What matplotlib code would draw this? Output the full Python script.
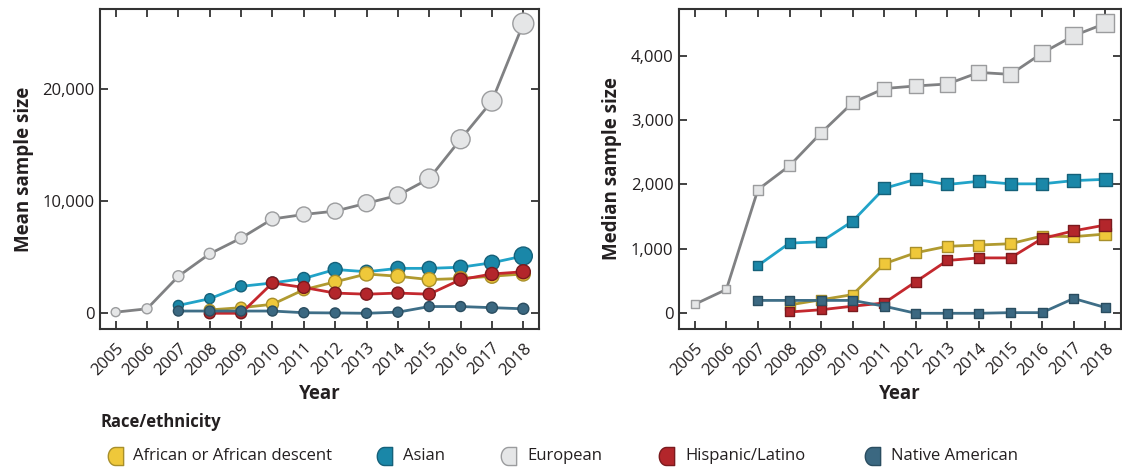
import matplotlib
matplotlib.use("Agg")
import matplotlib.pyplot as plt
import numpy as np
from matplotlib.path import Path
from matplotlib.lines import Line2D
from matplotlib.ticker import FuncFormatter

plt.rcParams['font.family'] = ['Open Sans', 'DejaVu Sans']

years = list(range(2005, 2019))
groups = ["African or African descent", "Asian", "European", "Hispanic/Latino", "Native American"]

# year ranges per group
years_european = list(range(2005, 2019))
years_asian = list(range(2007, 2019))
years_african = list(range(2008, 2019))
years_hispanic = list(range(2008, 2019))
years_native = list(range(2007, 2019))

# Mean sample size (left panel)
mean_european = [100, 400, 3300, 5300, 6700, 8400, 8800, 9100, 9800, 10500, 12000, 15500, 18900, 25800]
mean_asian = [700, 1300, 2400, 2700, 3100, 3900, 3700, 4000, 4000, 4100, 4500, 5100]
mean_african = [300, 500, 800, 2100, 2800, 3500, 3300, 3000, 3100, 3300, 3500]
mean_hispanic = [0, 0, 2700, 2300, 1800, 1700, 1800, 1700, 3000, 3500, 3700]
mean_native = [200, 200, 200, 200, 50, 30, 0, 100, 600, 600, 500, 400]

# Median sample size (right panel)
med_european = [140, 370, 1920, 2290, 2800, 3270, 3490, 3530, 3560, 3740, 3710, 4040, 4310, 4500]
med_asian = [740, 1090, 1110, 1430, 1940, 2080, 2000, 2050, 2010, 2010, 2060, 2080]
med_african = [130, 210, 290, 770, 940, 1040, 1060, 1080, 1200, 1190, 1230]
med_hispanic = [20, 55, 110, 160, 490, 820, 860, 860, 1160, 1280, 1370]
med_native = [200, 200, 200, 200, 110, 0, 0, 0, 10, 10, 230, 90]

# marker sizes (diameter / side in px) per point -- style
size_european = [9, 10, 11, 11, 12, 14, 15, 16, 17, 17, 19, 19, 20, 21]
size_asian = [10, 10, 11, 12, 12, 14, 13, 14, 14, 14, 15, 18]
size_african = [11, 11, 12, 12, 13, 14, 14, 14, 14, 14, 14]
size_hispanic = [11, 11, 12, 12, 12, 12, 12, 12, 13, 13, 14]
size_native = [10, 10, 10, 10, 10, 10, 10, 10, 10, 10, 11, 11]

sq_european = [8, 8, 10, 11, 12, 13, 14, 14, 15, 15, 15, 16, 17, 18]
sq_asian = [9, 10, 10, 11, 12, 12, 12, 12, 12, 12, 13, 13]
sq_african = [10, 10, 10, 11, 11, 11, 11, 11, 11, 11, 12]
sq_hispanic = [9, 9, 9, 10, 10, 10, 10, 10, 11, 11, 12]
sq_native = [9, 9, 9, 9, 9, 9, 9, 9, 9, 9, 9, 9]

styles = {
    "European": dict(fill="#e5e6e7", edge="#9b9c9e", line="#808183"),
    "Asian": dict(fill="#1a87a8", edge="#15617a", line="#21a3c8"),
    "African or African descent": dict(fill="#efc83a", edge="#a88f2a", line="#b09a30"),
    "Hispanic/Latino": dict(fill="#b3262b", edge="#7a1a1e", line="#c4282e"),
    "Native American": dict(fill="#3b6881", edge="#2a4d60", line="#3e6e87"),
}

order = ["European", "Asian", "African or African descent", "Hispanic/Latino", "Native American"]
year_map = {"European": years_european, "Asian": years_asian,
            "African or African descent": years_african,
            "Hispanic/Latino": years_hispanic, "Native American": years_native}
mean_vals = {"European": mean_european, "Asian": mean_asian,
             "African or African descent": mean_african,
             "Hispanic/Latino": mean_hispanic, "Native American": mean_native}
med_vals = {"European": med_european, "Asian": med_asian,
            "African or African descent": med_african,
            "Hispanic/Latino": med_hispanic, "Native American": med_native}
circ_sizes = {"European": size_european, "Asian": size_asian,
              "African or African descent": size_african,
              "Hispanic/Latino": size_hispanic, "Native American": size_native}
sq_sizes = {"European": sq_european, "Asian": sq_asian,
            "African or African descent": sq_african,
            "Hispanic/Latino": sq_hispanic, "Native American": sq_native}

fig = plt.figure(figsize=(11.22, 4.70), dpi=100)
W, H = 1122, 470
axL = fig.add_axes([100 / W, (H - 329) / H, 439 / W, 320 / H])
axR = fig.add_axes([679 / W, (H - 329) / H, 442 / W, 320 / H])

px2pt = 0.72

def draw(ax, vals, sizes, marker):
    for i, g in enumerate(order):
        st = styles[g]
        xs = year_map[g]
        ys = vals[g]
        ax.plot(xs, ys, color=st["line"], lw=2.0, zorder=2 + 2 * i, solid_capstyle='round')
        s = (np.array(sizes[g]) * px2pt) ** 2
        ax.scatter(xs, ys, s=s, marker=marker, facecolor=st["fill"], edgecolor=st["edge"],
                   linewidths=1.0, zorder=3 + 2 * i)

draw(axL, mean_vals, circ_sizes, 'o')
draw(axR, med_vals, sq_sizes, 's')

fmt = FuncFormatter(lambda v, p: f"{int(v):,}")
for ax in (axL, axR):
    ax.set_xlim(2004.5, 2018.5)
    ax.set_xticks(years)
    ax.set_xticklabels([str(y) for y in years], rotation=45, ha='right', rotation_mode='anchor')
    ax.tick_params(axis='both', direction='in', length=6, width=1.3, color='#333333',
                   top=True, right=True, labelsize=12, labelcolor='#231f20', pad=4)
    ax.tick_params(axis='x', pad=8)
    for sp in ax.spines.values():
        sp.set_color('#333333')
        sp.set_linewidth(1.5)
    ax.yaxis.set_major_formatter(fmt)
    ax.set_xlabel("Year", fontsize=13.5, fontweight='bold', color='#231f20', labelpad=4)

axL.set_ylim(-1400, 27100)
axL.set_yticks([0, 10000, 20000])
axL.set_ylabel("Mean sample size", fontsize=13.5, fontweight='bold', color='#231f20', labelpad=6)

axR.set_ylim(-244, 4725)
axR.set_yticks([0, 1000, 2000, 3000, 4000])
axR.set_ylabel("Median sample size", fontsize=13.5, fontweight='bold', color='#231f20', labelpad=6)

# Legend
fig.text(100 / W, 1 - 422 / H, "Race/ethnicity", fontsize=12, fontweight='bold',
         color='#231f20', va='center', ha='left')

# D-shaped marker: rounded left half, square right half
theta = np.linspace(np.pi / 2, 3 * np.pi / 2, 20)
verts = [(0.0, 1.0)] + [(0.8 * np.cos(t), np.sin(t)) for t in theta] + [(0.9, -1.0), (0.9, 1.0), (0.0, 1.0)]
dmark = Path(verts, closed=True)

leg_marker_x = [115, 384, 508, 666, 872]
leg_text_x = [133, 403, 527, 685, 891]
leg_order = ["African or African descent", "Asian", "European", "Hispanic/Latino", "Native American"]
for xm, xt, g in zip(leg_marker_x, leg_text_x, leg_order):
    st = styles[g]
    fig.add_artist(Line2D([xm / W], [1 - 456 / H], marker=dmark, markersize=13,
                          markerfacecolor=st["fill"], markeredgecolor=st["edge"],
                          markeredgewidth=1.0, linestyle='none', transform=fig.transFigure))
    fig.text(xt / W, 1 - 456 / H, g, fontsize=12, color='#231f20',
             va='center', ha='left')

fig.savefig("out.png", dpi=100)
